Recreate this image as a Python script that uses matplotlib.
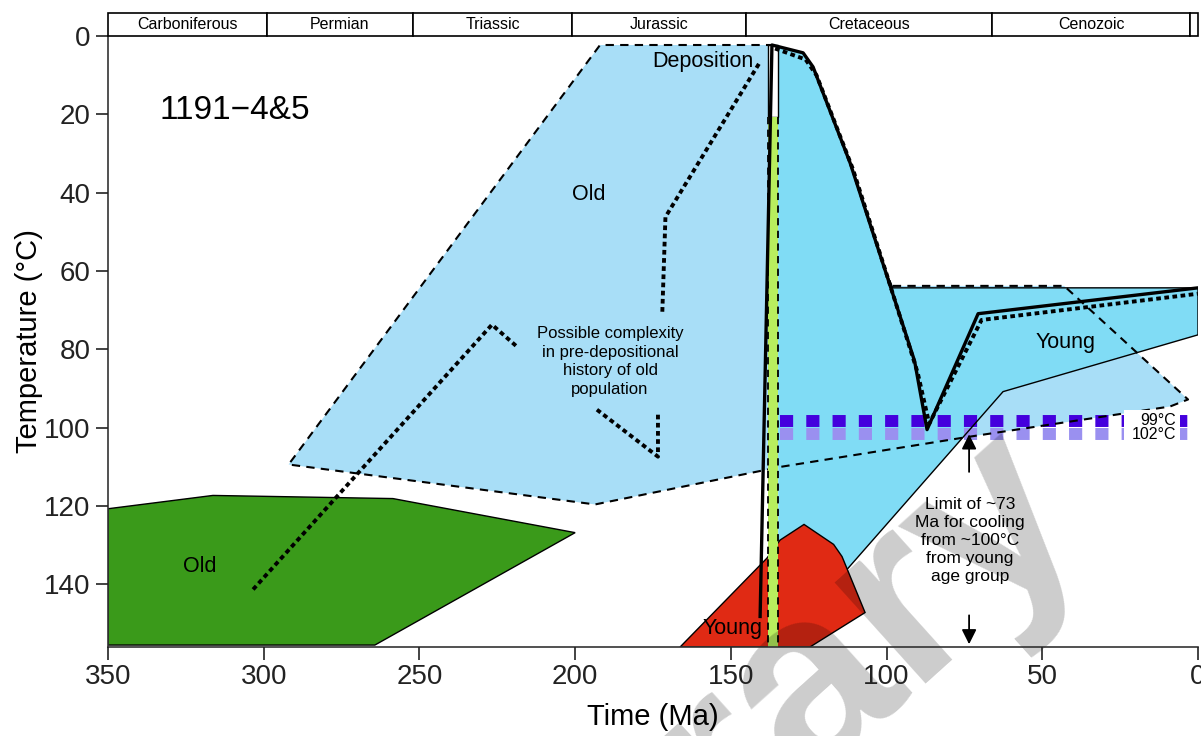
import matplotlib.pyplot as plt
from matplotlib.patches import Polygon, Rectangle

plt.rcParams['font.family'] = ['Liberation Sans', 'DejaVu Sans']

# geologic periods (Ma)
period_names = ['Carboniferous', 'Permian', 'Triassic', 'Jurassic', 'Cretaceous', 'Cenozoic', '']
period_start = [350, 299, 252, 201, 145, 66, 2.6]
period_end = [299, 252, 201, 145, 66, 2.6, 0]

# envelopes (time Ma, temperature C)
old_t = [98, 43, 3.2, 9, 75, 134, 193.6, 292, 192, 137]
old_T = [63.8, 63.8, 92.8, 94.6, 102.5, 110, 119.6, 109.4, 2.3, 2.3]

young_t = [136.8, 126.8, 123.6, 111.7, 100.5, 98, 0, 0, 62.6, 112.7, 120, 134.8, 134.8]
young_T = [2.3, 4.3, 7.9, 32.4, 59.7, 64.3, 64.3, 76.3, 90.8, 136.2, 142, 142, 2.3]

green_t = [350, 316.3, 258.5, 200, 264.3, 350]
green_T = [120.7, 117.3, 118.1, 126.8, 155.5, 155.5]

red_t = [166.3, 138.4, 134.2, 126.5, 117, 114.3, 106.9, 124.6]
red_T = [156, 133.3, 128.7, 124.7, 129.8, 132.9, 147.2, 156]

# time paths
path_t = [140.6, 136.8, 126.8, 123.6, 111.7, 100.5, 91, 87, 70.6, 0]
path_T = [148.2, 2.3, 4.3, 7.9, 32.4, 59.7, 83, 100.5, 70.9, 64.3]

dot_t = [135.8, 126, 122.5, 110.8, 99.5, 90, 86.3, 69.5, 0]
dot_T = [3.2, 6, 10, 34, 62, 86, 99, 72.5, 65.8]

old1_t = [303.4, 226.7, 218.7]
old1_T = [141.3, 73.7, 79.3]
old2_t = [193, 173.4, 173.4]
old2_T = [95.4, 107.4, 96.1]
old3_t = [172, 171, 140.6]
old3_T = [70.4, 46.2, 6.6]

# deposition bar
bar_t0, bar_t1 = 134.8, 138.05
bar_top, bar_mid, bar_bot = 2.3, 20.7, 156

# annealing temperatures
temps = [98.2, 101.7]
temp_labels = ['99°C', '102°C']
temp_colors = ['#4400dd', '#9a90f0']

fig = plt.figure(figsize=(12.01, 7.36), dpi=100)
ax = fig.add_axes([0.0899, 0.1209, 0.9076, 0.8302])
ax.set_xlim(350, 0)
ax.set_ylim(156, 0)

ax.add_patch(Polygon(list(zip(old_t, old_T)), closed=True, fc='#a8def7', ec='none', zorder=1))
ax.add_patch(Polygon(list(zip(green_t, green_T)), closed=True, fc='#3a9a1a', ec='black', lw=1, zorder=1.5))
ax.add_patch(Polygon(list(zip(young_t, young_T)), closed=True, fc='#80dcf5', ec='none', zorder=2))
ax.plot(young_t[4:11], young_T[4:11], color='black', lw=1, zorder=2.8)

for T, c in zip(temps, temp_colors):
    ax.plot([134.2, 0], [T, T], color=c, lw=8.6, dashes=(1.1, 1.1), solid_capstyle='butt', zorder=2.5)

ax.plot(old_t, old_T, color='black', lw=1.5, ls=(0, (4, 3)), zorder=2.7)

ax.add_patch(Polygon(list(zip(red_t, red_T)), closed=True, fc='#e02a14', ec='black', lw=1, zorder=3))

# deposition bar
ax.add_patch(Rectangle((bar_t0, bar_top), bar_t1 - bar_t0, bar_mid - bar_top, fc='white', ec='black', lw=1, zorder=4))
ax.add_patch(Rectangle((bar_t0, bar_mid), bar_t1 - bar_t0, bar_bot - bar_mid, fc='#b8ee5e', ec='none', zorder=4))
for bt in [bar_t0, bar_t1]:
    ax.plot([bt, bt], [bar_mid, bar_bot], color='black', lw=1.3, ls=(0, (4, 3)), zorder=4.1)

ax.plot(path_t, path_T, color='black', lw=2.4, zorder=5)
ax.plot(dot_t, dot_T, color='black', lw=2.8, ls=(0, (1.2, 0.9)), zorder=5)
for xs, ys in [(old1_t, old1_T), (old2_t, old2_T), (old3_t, old3_T)]:
    ax.plot(xs, ys, color='black', lw=2.8, ls=(0, (1.2, 0.9)), zorder=5)

# temperature labels
ax.add_patch(Rectangle((5.8, 95.6), 18, 8.6, fc='white', ec='none', zorder=6))
for T, lab in zip(temps, temp_labels):
    ax.text(7, T, lab, ha='right', va='center', fontsize=11.5, zorder=7)

# arrows
ax.annotate('', xy=(73.5, 101), xytext=(73.5, 112),
            arrowprops=dict(arrowstyle='-|>', color='black', lw=1.3, mutation_scale=22), zorder=7)
ax.annotate('', xy=(73.5, 156), xytext=(73.5, 147.2),
            arrowprops=dict(arrowstyle='-|>', color='black', lw=1.3, mutation_scale=22), zorder=7)
ax.text(73.3, 128.8, 'Limit of ~73\nMa for cooling\nfrom ~100°C\nfrom young\nage group',
        ha='center', va='center', fontsize=12.5, linespacing=1.25, zorder=7)

# labels
ax.text(333.5, 19, '1191−4&5', fontsize=24, ha='left', va='center', zorder=7)
ax.text(159, 6.6, 'Deposition', fontsize=15.5, ha='center', va='center', zorder=7)
ax.text(195.5, 40.5, 'Old', fontsize=15.5, ha='center', va='center', zorder=7)
ax.text(320.5, 135.4, 'Old', fontsize=15.5, ha='center', va='center', zorder=7)
ax.text(149.3, 151.3, 'Young', fontsize=15.5, ha='center', va='center', zorder=7)
ax.text(42.4, 78.3, 'Young', fontsize=15.5, ha='center', va='center', zorder=7)
ax.text(188.8, 83.1, 'Possible complexity\nin pre-depositional\nhistory of old\npopulation',
        fontsize=12, ha='center', va='center', linespacing=1.3, zorder=7)

ax.set_xticks([350, 300, 250, 200, 150, 100, 50, 0])
ax.set_yticks([0, 20, 40, 60, 80, 100, 120, 140])
ax.tick_params(labelsize=20, length=9, width=1.2, direction='out', colors='#222222')
ax.set_xlabel('Time (Ma)', fontsize=21, labelpad=9)
ax.set_ylabel('Temperature (°C)', fontsize=21, labelpad=1)
ax.xaxis.set_zorder(8)
ax.yaxis.set_zorder(8)
for s in ['top', 'right']:
    ax.spines[s].set_visible(False)
for s in ['left', 'bottom']:
    ax.spines[s].set_linewidth(1.2)
    ax.spines[s].set_color('#333333')
    ax.spines[s].set_zorder(8)

# watermark (darkens whatever lies under it)
ax.text(1090 / 1201, 1 - 520 / 736, 'Library', transform=fig.transFigure, clip_on=False,
        fontsize=185, fontweight='bold', color='black', alpha=0.2, rotation=42,
        ha='right', va='baseline', rotation_mode='anchor', zorder=4.5)

# period band
bx = fig.add_axes([0.0899, 0.9511, 0.9076, 0.0313])
bx.set_xlim(350, 0)
bx.set_ylim(0, 1)
bx.axis('off')
for name, a, b in zip(period_names, period_start, period_end):
    bx.add_patch(Rectangle((b, 0), a - b, 1, fc='white', ec='black', lw=1.2, clip_on=False))
    bx.text((a + b) / 2, 0.5, name, ha='center', va='center', fontsize=11.5)

fig.savefig('out.png', dpi=100)
